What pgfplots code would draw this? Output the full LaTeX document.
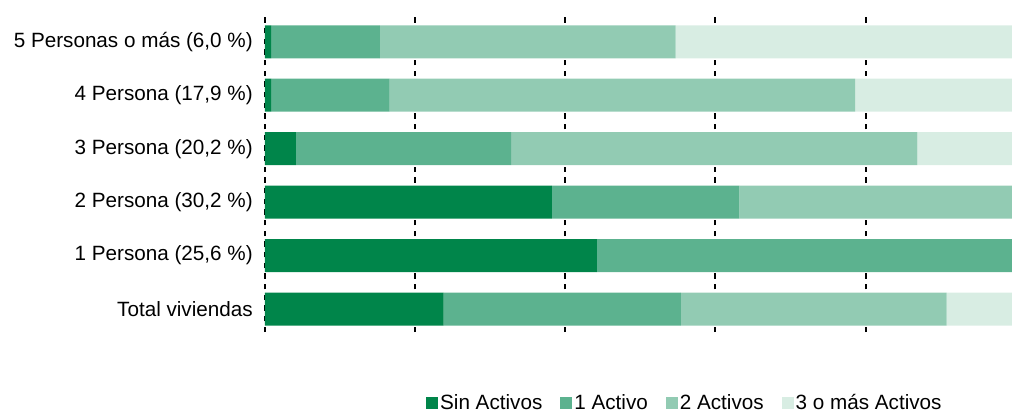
\documentclass[border=0pt]{standalone}
\usepackage{pgfplots}
\pgfplotsset{compat=1.18}
\usepackage{fontspec}
\setmainfont{Liberation Sans}

\definecolor{sinact}{RGB}{0,133,74}
\definecolor{unact}{RGB}{92,178,143}
\definecolor{dosact}{RGB}{146,203,179}
\definecolor{tresact}{RGB}{216,237,227}

\begin{document}
\begin{tikzpicture}[font=\fontsize{15.5}{18}\selectfont]
\begin{axis}[
    at={(0,0)}, anchor=south west,
    scale only axis,
    width=560.25pt, height=238.5pt,
    xbar stacked,
    bar width=24.75pt,
    xmin=0, xmax=99.5,
    ymin=-0.43, ymax=5.52,
    axis line style={draw=none},
    major tick length=0pt,
    xtick={0,20,40,60,80},
    xticklabels={},
    xmajorgrids,
    grid style={black, line width=1.5pt, dash pattern=on 4pt off 4pt},
    ytick={0,...,5},
    yticklabels={{Total viviendas}, {1 Persona (25,6 \%)}, {2 Persona (30,2 \%)},
        {3 Persona (20,2 \%)}, {4 Persona (17,9 \%)}, {5 Personas o más (6,0 \%)}},
    yticklabel style={inner sep=0pt, xshift=-9pt},
    legend columns=-1,
    legend style={draw=none, fill=none, at={(0.21,-0.222)}, anchor=west,
        nodes={inner sep=1.5pt},
        /tikz/every even column/.append style={column sep=12pt}},
    legend image code/.code={\fill[#1] (0pt,-4.5pt) rectangle (9pt,4.5pt);},
]
\addplot[fill=sinact, draw=none] coordinates {
    (23.8,0) (44.2,1) (38.2,2) (4.1,3) (0.8,4) (0.8,5)};
\addplot[fill=unact, draw=none] coordinates {
    (31.6,0) (55.8,1) (25.0,2) (28.7,3) (15.8,4) (14.5,5)};
\addplot[fill=dosact, draw=none] coordinates {
    (35.4,0) (0,1) (36.8,2) (54.1,3) (62.0,4) (39.4,5)};
\addplot[fill=tresact, draw=none] coordinates {
    (9.2,0) (0,1) (0,2) (13.1,3) (21.4,4) (45.3,5)};
\legend{Sin Activos, 1 Activo, 2 Activos, 3 o más Activos}
\end{axis}
\pgfresetboundingbox
\useasboundingbox (-198.75pt,-61.5pt) rectangle (560.25pt,249pt);
\end{tikzpicture}
\end{document}
